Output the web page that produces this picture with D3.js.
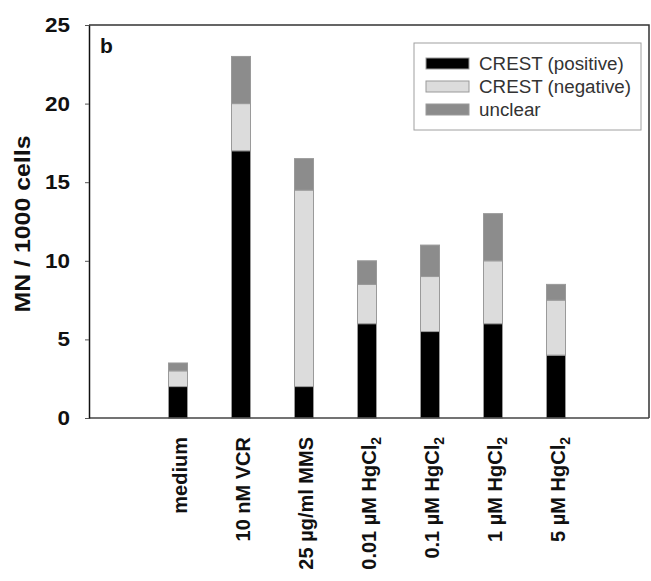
<!DOCTYPE html>
<html>
<head>
<meta charset="utf-8">
<script src="https://cdn.jsdelivr.net/npm/d3@7"></script>
<style>
  html, body { margin: 0; padding: 0; background: #fff; }
  svg { display: block; font-family: "Liberation Sans", Arial, Helvetica, sans-serif; }
</style>
</head>
<body>
<svg id="chart" width="651" height="581"></svg>
<script>
// Treatments (x categories); the trailing "2" is drawn as a subscript
const categories = ["medium", "10 nM VCR", "25 µg/ml MMS", "0.01 µM HgCl2", "0.1 µM HgCl2", "1 µM HgCl2", "5 µM HgCl2"];

// Micronuclei per 1000 cells, one array per stacked series
const crestPositive = [2, 17, 2, 6, 5.5, 6, 4];
const crestNegative = [1, 3, 12.5, 2.5, 3.5, 4, 3.5];
const unclear      = [0.5, 3, 2, 1.5, 2, 3, 1];

const seriesNames = ["CREST (positive)", "CREST (negative)", "unclear"];
const seriesColors = ["#000000", "#dcdcdc", "#8c8c8c"];
const yTicks = [0, 5, 10, 15, 20, 25];

const svg = d3.select("#chart");
const plot = { left: 89, right: 649, top: 25, bottom: 418 };

const x = d3.scalePoint().domain(categories).range([178, 556]);
const y = d3.scaleLinear().domain([0, 25]).range([plot.bottom, plot.top]);
const barW = 19;

// Stack the three series
const rows = categories.map((c, i) => ({
  cat: c,
  [seriesNames[0]]: crestPositive[i],
  [seriesNames[1]]: crestNegative[i],
  [seriesNames[2]]: unclear[i]
}));
const stacked = d3.stack().keys(seriesNames)(rows);

svg.append("g")
  .selectAll("g")
  .data(stacked)
  .join("g")
    .attr("fill", (d, i) => seriesColors[i])
  .selectAll("rect")
  .data(d => d)
  .join("rect")
    .attr("x", d => x(d.data.cat) - barW / 2)
    .attr("y", d => y(d[1]))
    .attr("width", barW)
    .attr("height", d => y(d[0]) - y(d[1]))
    .attr("stroke", "#9a9a9a")
    .attr("stroke-width", 1);

// Frame: top and right borders
svg.append("path")
  .attr("d", `M${plot.left},${plot.top}H${plot.right}V${plot.bottom}`)
  .attr("fill", "none")
  .attr("stroke", "#333")
  .attr("stroke-width", 1.5);

// Bottom axis line
svg.append("line")
  .attr("x1", plot.left).attr("x2", plot.right)
  .attr("y1", plot.bottom).attr("y2", plot.bottom)
  .attr("stroke", "#444").attr("stroke-width", 1.5);

// Y axis
const yAxis = svg.append("g")
  .attr("transform", `translate(${plot.left},0)`)
  .call(d3.axisLeft(y).tickValues(yTicks).tickSize(4).tickPadding(15).tickSizeOuter(0));
yAxis.select(".domain").attr("stroke", "#111").attr("stroke-width", 1.5);
yAxis.selectAll(".tick line").attr("stroke", "#555");
yAxis.selectAll(".tick text")
  .attr("fill", "#111")
  .attr("font-size", 20)
  .attr("font-weight", "bold")
  .attr("font-family", "'Liberation Sans', Arial, sans-serif")
  .attr("textLength", d => String(d).length * 12.5)
  .attr("lengthAdjust", "spacingAndGlyphs");

// Y axis title
svg.append("text")
  .attr("transform", "translate(30,224) rotate(-90)")
  .attr("text-anchor", "middle")
  .attr("font-size", 21.5)
  .attr("font-weight", "bold")
  .attr("fill", "#111")
  .attr("textLength", 177)
  .attr("lengthAdjust", "spacingAndGlyphs")
  .text("MN / 1000 cells");

// Panel letter
svg.append("text")
  .attr("x", 100).attr("y", 53)
  .attr("font-size", 21).attr("font-weight", "bold")
  .attr("fill", "#111")
  .text("b");

// Rotated category labels
const xl = svg.append("g");
categories.forEach(c => {
  const t = xl.append("text")
    .attr("transform", `translate(${x(c) + 9},437) rotate(-90)`)
    .attr("text-anchor", "end")
    .attr("font-size", 20)
    .attr("font-weight", "bold")
    .attr("fill", "#111");
  if (c.endsWith("HgCl2")) {
    t.append("tspan").text(c.slice(0, -1));
    t.append("tspan").attr("font-size", 14).attr("dy", 5).text("2");
  } else {
    t.text(c);
  }
});

// Legend
const lg = svg.append("g");
lg.append("rect")
  .attr("x", 414).attr("y", 43).attr("width", 227).attr("height", 87)
  .attr("fill", "#fff").attr("stroke", "#a0a0a0").attr("stroke-width", 1);
seriesNames.forEach((name, i) => {
  const cy = 63.5 + i * 23;
  lg.append("rect")
    .attr("x", 426).attr("y", cy - 5.5).attr("width", 43).attr("height", 11)
    .attr("fill", seriesColors[i]).attr("stroke", "#9a9a9a").attr("stroke-width", 1);
  lg.append("text")
    .attr("x", 479).attr("y", cy + 6.5)
    .attr("font-size", 18.8)
    .attr("fill", "#333")
    .text(name);
});
</script>
</body>
</html>
